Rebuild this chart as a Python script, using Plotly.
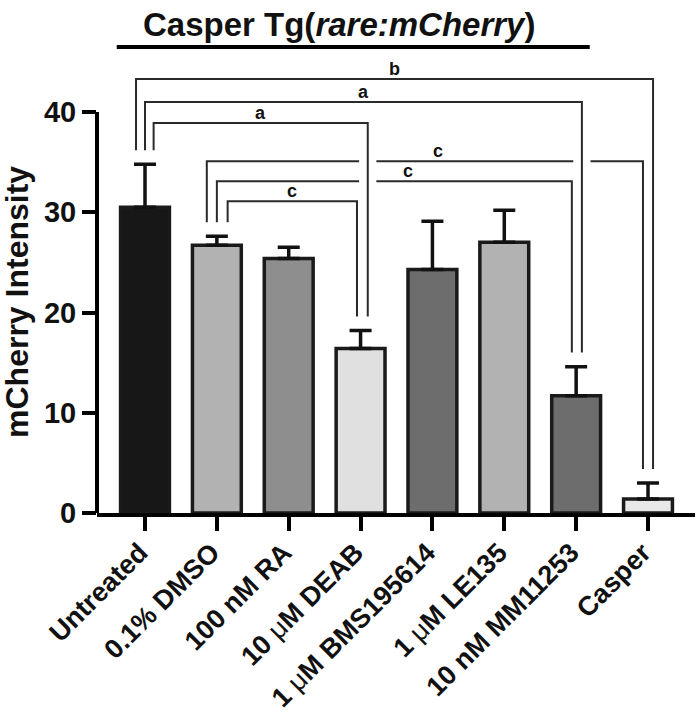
import plotly.graph_objects as go

categories = ["Untreated", "0.1% DMSO", "100 nM RA", "10 μM DEAB",
              "1 μM BMS195614", "1 μM LE135", "10 nM MM11253", "Casper"]
means = [30.5, 26.7, 25.4, 16.4, 24.3, 27.0, 11.7, 1.4]
sem = [4.3, 0.9, 1.1, 1.8, 4.8, 3.2, 2.9, 1.6]
bar_colors = ["#171717", "#b2b2b2", "#8e8e8e", "#e0e0e0",
              "#6d6d6d", "#b2b2b2", "#6d6d6d", "#e8e8e8"]

# significance brackets: (label, left group, right group, height)
bracket_labels = ["b", "a", "a", "c", "c", "c"]
bracket_left = [0, 0, 0, 1, 1, 1]
bracket_right = [7, 6, 3, 7, 6, 3]
bracket_height = [43.3, 41.0, 38.9, 35.1, 33.1, 31.1]

# small horizontal nudges so parallel legs sit side by side
LEFT_OFF = [-0.125, 0.0, 0.12, -0.14, 0.0, 0.15]
RIGHT_OFF = [0.07, 0.08, 0.10, -0.07, -0.06, -0.05]
LABEL_SHIFT = [0.0, 0.0, 0.0, 0.18, 0.19, 0.0]
LEG_GAP = 1.4
CROSS_GAP = 0.12

BRACKET_COLOR = "#2a2a2a"
FONT = "Liberation Sans, Arial, sans-serif"

x = list(range(len(categories)))


def _ticktext(label):
    return label.replace("μ", "<span style='font-weight:normal'>μ</span>")


fig = go.Figure()

fig.add_trace(go.Bar(
    x=x, y=means,
    width=0.68,
    marker=dict(color=bar_colors, line=dict(color="#1a1a1a", width=3.5)),
    error_y=dict(type="data", array=sem, arrayminus=[0] * len(sem), symmetric=False,
                 color="#111111", thickness=3.5, width=11),
    showlegend=False, hoverinfo="skip",
))

# legs of every bracket (x, top, bottom) to find crossings
legs = []
for i in range(len(bracket_labels)):
    l, r, h = bracket_left[i], bracket_right[i], bracket_height[i]
    legs.append((l + LEFT_OFF[i], h, means[l] + sem[l] + LEG_GAP))
    legs.append((r + RIGHT_OFF[i], h, means[r] + sem[r] + LEG_GAP))

for i in range(len(bracket_labels)):
    l, r, h = bracket_left[i], bracket_right[i], bracket_height[i]
    xl, xr = l + LEFT_OFF[i], r + RIGHT_OFF[i]
    bl = means[l] + sem[l] + LEG_GAP
    br = means[r] + sem[r] + LEG_GAP
    # horizontal, broken where another leg passes through
    cuts = sorted(lx for lx, top, bot in legs if xl < lx < xr and top > h > bot)
    xs, ys = [xl, xl], [bl, h]
    for c in cuts:
        xs += [c - CROSS_GAP, None, c + CROSS_GAP]
        ys += [h, None, h]
    xs += [xr, xr]
    ys += [h, br]
    fig.add_trace(go.Scatter(
        x=xs, y=ys, mode="lines",
        line=dict(color=BRACKET_COLOR, width=2),
        showlegend=False, hoverinfo="skip",
    ))
    fig.add_annotation(
        x=(xl + xr) / 2 + LABEL_SHIFT[i], y=h, text=f"<b>{bracket_labels[i]}</b>",
        showarrow=False, xanchor="center", yanchor="bottom", yshift=-2,
        font=dict(family=FONT, size=18, color="#111111"),
    )

# y axis line only up to 40
fig.add_shape(type="line", xref="paper", yref="y", x0=0, x1=0, y0=0, y1=40,
              line=dict(color="black", width=4))

# title + underline
fig.add_annotation(
    xref="paper", yref="paper", x=0.405, y=1.066, xanchor="center", yanchor="middle",
    text="<b>Casper Tg(<i>rare:mCherry</i>)</b>", showarrow=False,
    font=dict(family=FONT, size=33, color="#111111"),
)
fig.add_shape(type="line", xref="paper", yref="paper", x0=0.033, x1=0.824,
              y0=1.0175, y1=1.0175, line=dict(color="black", width=4))

# y axis title
fig.add_annotation(
    xref="paper", yref="y", x=-0.133, y=21.1, textangle=-90,
    xanchor="center", yanchor="middle",
    text="<b>mCherry Intensity</b>", showarrow=False,
    font=dict(family=FONT, size=32, color="#111111"),
)

fig.update_layout(
    width=697, height=716,
    margin=dict(l=97, r=2, t=55, b=203),
    paper_bgcolor="white", plot_bgcolor="white",
    xaxis=dict(
        range=[-0.668, 7.654], automargin=False,
        tickvals=x, ticktext=[_ticktext(c) for c in categories],
        tickangle=-45, ticklabelshift=-5, ticklabelstandoff=-5,
        tickfont=dict(family=FONT, size=27, color="#111111", weight="bold"),
        ticks="outside", ticklen=14, tickwidth=4, tickcolor="black",
        showline=True, linewidth=4, linecolor="black",
        showgrid=False, zeroline=False,
    ),
    yaxis=dict(
        range=[0, 45.69], automargin=False,
        tickvals=[0, 10, 20, 30, 40],
        tickfont=dict(family=FONT, size=29, color="#111111", weight="bold"),
        ticks="outside", ticklen=14, tickwidth=4, tickcolor="black",
        showline=False, showgrid=False, zeroline=False,
    ),
)

fig.write_html("out.html", config={"displayModeBar": False},
               post_script="document.body.style.margin='0';")
